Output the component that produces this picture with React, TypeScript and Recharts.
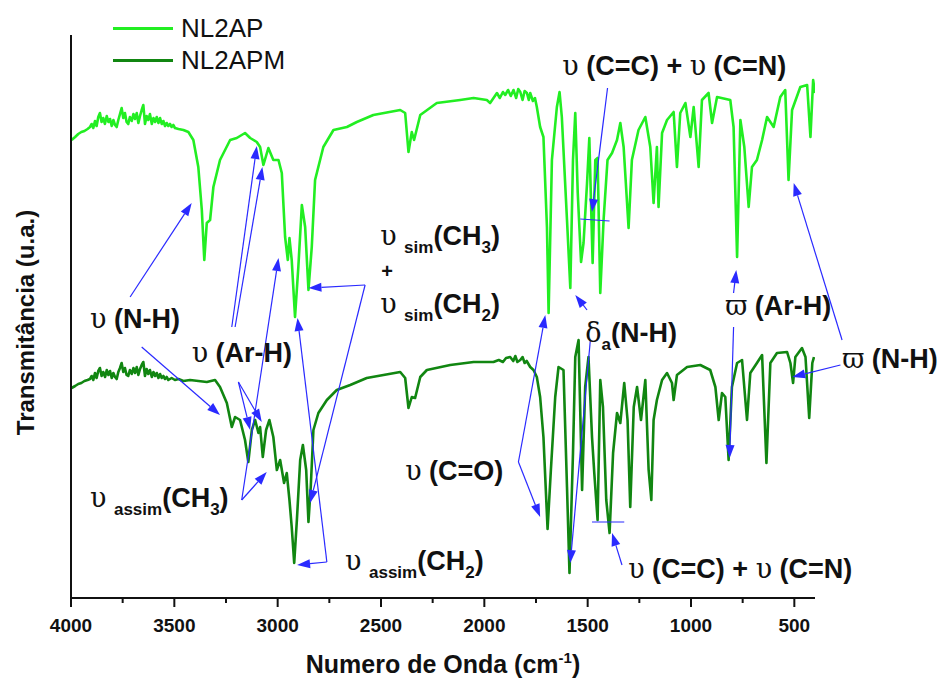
import React from 'react';
import { LineChart, Line, XAxis, YAxis, ReferenceLine, ReferenceDot, Legend } from 'recharts';

// ---------- data: [wavenumber (cm-1), transmittance (arbitrary units)] ----------
const nl2apSpectrum: [number, number][] = [
  [3997,458],[3980,461],[3965,464],[3950,466],[3935,467],[3920,469],[3908,471],[3900,474],[3892,470],[3884,477],
  [3876,472],[3868,481],[3860,485],[3852,476],[3844,480],[3836,474],[3827,482],[3819,476],[3811,479],[3803,472],
  [3795,478],[3787,473],[3779,471],[3771,478],[3763,484],[3755,490],[3747,480],[3739,485],[3731,476],[3723,474],
  [3715,481],[3706,477],[3698,484],[3690,479],[3682,485],[3674,475],[3666,482],[3658,488],[3650,493],[3642,474],
  [3634,482],[3626,478],[3618,484],[3609,474],[3601,480],[3593,476],[3585,481],[3577,475],[3569,480],[3561,474],
  [3553,477],[3545,472],[3537,475],[3529,472],[3521,474],[3513,471],[3505,473],[3497,470],[3480,469],[3456,468],
  [3432,466],[3408,458],[3384,431],[3367,388],[3355,338],[3343,375],[3327,378],[3311,411],[3279,438],[3230,458],
  [3198,460],[3158,465],[3133,460],[3101,456],[3085,451],[3069,433],[3045,450],[3021,438],[2996,438],[2980,425],
  [2964,361],[2951,338],[2943,360],[2932,338],[2916,281],[2900,331],[2883,393],[2867,371],[2851,308],[2835,351],
  [2819,418],[2779,451],[2730,468],[2665,471],[2617,476],[2537,483],[2407,488],[2383,485],[2367,446],[2351,466],
  [2340,458],[2310,483],[2230,495],[2117,498],[2052,500],[1988,498],[1972,495],[1939,505],[1925,500],[1910,506],
  [1899,503],[1885,508],[1872,502],[1859,508],[1846,500],[1836,509],[1826,506],[1815,498],[1805,507],[1794,505],
  [1785,498],[1778,505],[1765,497],[1755,500],[1746,491],[1730,471],[1714,461],[1697,371],[1689,285],[1673,438],
  [1649,491],[1636,506],[1625,481],[1600,378],[1584,310],[1571,438],[1560,485],[1548,405],[1532,336],[1520,355],
  [1503,415],[1492,460],[1476,335],[1463,438],[1452,440],[1439,305],[1423,378],[1404,438],[1382,445],[1358,458],
  [1342,475],[1326,451],[1302,370],[1286,438],[1254,468],[1221,481],[1197,451],[1181,395],[1165,451],[1157,391],
  [1140,465],[1116,478],[1084,486],[1068,431],[1052,485],[1027,495],[1003,461],[987,491],[963,431],[947,498],
  [915,505],[898,475],[874,501],[810,498],[794,471],[777,341],[761,478],[742,451],[721,391],[705,431],
  [681,438],[656,458],[632,481],[600,471],[568,501],[544,508],[528,418],[511,488],[471,511],[438,513],
  [422,461],[409,518],[400,505],
];

const nl2apmSpectrum: [number, number][] = [
  [3997,210],[3980,212],[3965,214],[3950,215],[3935,217],[3920,218],[3908,219],[3900,222],[3892,218],[3884,225],
  [3876,220],[3868,227],[3860,230],[3852,222],[3844,226],[3835,221],[3827,228],[3819,223],[3811,227],[3803,220],
  [3795,225],[3787,221],[3779,219],[3771,226],[3763,230],[3755,235],[3747,226],[3739,230],[3731,223],[3723,222],
  [3715,228],[3706,224],[3698,230],[3690,225],[3682,231],[3674,223],[3666,229],[3658,233],[3650,236],[3642,222],
  [3634,229],[3626,224],[3618,228],[3609,221],[3601,226],[3593,222],[3585,225],[3577,220],[3569,224],[3561,220],
  [3553,222],[3545,219],[3537,221],[3529,218],[3513,220],[3497,218],[3480,219],[3456,217],[3424,218],[3343,216],
  [3303,218],[3279,211],[3246,195],[3222,171],[3206,181],[3182,178],[3158,158],[3142,136],[3125,168],[3109,178],
  [3093,165],[3085,171],[3072,141],[3056,168],[3040,178],[3021,161],[3004,128],[2988,138],[2969,115],[2956,125],
  [2943,98],[2932,71],[2920,35],[2907,78],[2891,138],[2878,153],[2862,128],[2851,76],[2840,111],[2827,168],
  [2803,185],[2762,198],[2714,208],[2649,213],[2569,220],[2488,223],[2407,226],[2383,220],[2367,190],[2351,201],
  [2335,200],[2310,221],[2278,228],[2165,233],[2052,236],[1956,236],[1930,238],[1910,236],[1895,240],[1875,241],
  [1860,237],[1850,242],[1840,236],[1826,238],[1815,241],[1805,235],[1795,237],[1778,231],[1762,228],[1746,221],
  [1730,201],[1714,161],[1694,69],[1678,128],[1657,201],[1641,231],[1617,228],[1600,111],[1588,25],[1571,145],
  [1560,241],[1544,258],[1527,108],[1512,211],[1496,241],[1479,161],[1468,125],[1452,78],[1439,218],[1426,191],
  [1410,98],[1394,65],[1377,145],[1358,185],[1342,175],[1323,215],[1307,178],[1294,91],[1277,191],[1261,211],
  [1242,178],[1221,218],[1205,128],[1192,98],[1181,178],[1165,198],[1140,218],[1116,225],[1092,215],[1084,198],
  [1068,223],[1019,231],[955,233],[907,228],[882,211],[866,178],[850,205],[834,201],[818,138],[802,211],
  [777,235],[753,238],[729,178],[713,225],[681,235],[656,243],[635,135],[616,235],[584,245],[535,246],
  [519,235],[506,215],[495,241],[463,250],[446,241],[428,180],[413,235],[405,241],
];

const seriesNames = ['NL2AP', 'NL2APM'];
const xTicks = [4000, 3750, 3500, 3250, 3000, 2750, 2500, 2250, 2000, 1750, 1500, 1250, 1000, 750, 500];
const xDomain = [400, 4000];
const yDomain = [0, 563];

// annotation arrows [wavenumber, transmittance] tail -> head
const arrowTails = [
  [3714, 301], [3658, 251], [3222, 271], [3206, 271], [3190, 216], [3190, 216],
  [3174, 98], [3174, 98], [2762, 36], [2762, 36], [2577, 313], [2577, 313],
  [1835, 136], [1835, 136], [1503, 288], [1487, 258], [1404, 510], [1334, 33],
  [794, 305], [794, 271], [269, 258], [277, 233],
];
const arrowHeads = [
  [3416, 395], [3279, 183], [3101, 452], [3074, 431], [3133, 168], [3077, 176],
  [3053, 126], [2996, 340], [2906, 33], [2904, 280], [2851, 310], [2843, 95],
  [1730, 81], [1705, 283], [1560, 303], [1584, 35], [1479, 386], [1382, 65],
  [781, 328], [813, 140], [503, 415], [510, 221],
];
const barSegments = [
  [[1536, 379], [1394, 377]],
  [[1479, 76], [1323, 76]],
];

// annotation labels: anchor [wavenumber, transmittance] and text parts
// part kinds: g = greek symbol, t = bold text, s = subscript
const labelAnchors = [
  [3908, 270], [3416, 236], [3908, 91], [2674, 28], [2504, 353], [2504, 285],
  [2383, 118], [1512, 256], [1623, 523], [1304, 20], [834, 283], [268, 230],
];
const labelParts = [
  [['g', 'υ'], ['t', ' (N-H)']],
  [['g', 'υ'], ['t', ' (Ar-H)']],
  [['g', 'υ'], ['t', ' '], ['s', 'assim'], ['t', '(CH'], ['s', '3'], ['t', ')']],
  [['g', 'υ'], ['t', ' '], ['s', 'assim'], ['t', '(CH'], ['s', '2'], ['t', ')']],
  [['g', 'υ'], ['t', ' '], ['s', 'sim'], ['t', '(CH'], ['s', '3'], ['t', ')']],
  [['g', 'υ'], ['t', ' '], ['s', 'sim'], ['t', '(CH'], ['s', '2'], ['t', ')']],
  [['g', 'υ'], ['t', ' (C=O)']],
  [['g', 'δ'], ['s', 'a'], ['t', '(N-H)']],
  [['g', 'υ'], ['t', ' (C=C) + '], ['g', 'υ'], ['t', ' (C=N)']],
  [['g', 'υ'], ['t', ' (C=C) + '], ['g', 'υ'], ['t', ' (C=N)']],
  [['g', 'ϖ'], ['t', ' (Ar-H)']],
  [['g', 'ϖ'], ['t', ' (N-H)']],
];
const plusAnchor = [2470, 320];

// ---------- styles ----------
const LIGHT = '#22ee22';
const DARK = '#118611';
const BLUE = '#2a2aff';
const SANS = '"Liberation Sans", Arial, Helvetica, sans-serif';
const GREEK = '"DejaVu Serif", "Liberation Serif", serif';
const LABEL_SIZE = 27;
const SUB_SIZE = 17;

const toRows = (pairs: [number, number][]) => pairs.map(([wn, t]) => ({ wn, t }));
const nl2apData = toRows(nl2apSpectrum);
const nl2apmData = toRows(nl2apmSpectrum);

const ArrowShape = (p: any) => {
  const { x1, y1, x2, y2 } = p;
  if ([x1, y1, x2, y2].some((v) => typeof v !== 'number' || isNaN(v))) return <g />;
  const dx = x2 - x1;
  const dy = y2 - y1;
  const len = Math.hypot(dx, dy) || 1;
  const ux = dx / len;
  const uy = dy / len;
  const hl = 13;
  const hw = 4.5;
  const bx = x2 - ux * hl;
  const by = y2 - uy * hl;
  const pts = `${x2},${y2} ${bx - uy * hw},${by + ux * hw} ${bx + uy * hw},${by - ux * hw}`;
  return (
    <g>
      <line x1={x1} y1={y1} x2={bx} y2={by} stroke={BLUE} strokeWidth={1.2} />
      <polygon points={pts} fill={BLUE} />
    </g>
  );
};

const BarShape = (p: any) => {
  const { x1, y1, x2, y2 } = p;
  return <line x1={x1} y1={y1} x2={x2} y2={y2} stroke={BLUE} strokeWidth={1.2} />;
};

const makeTextShape = (parts: string[][]) => (p: any) => {
  const { cx, cy } = p;
  const spans: React.ReactNode[] = [];
  let sub = false;
  parts.forEach(([kind, txt], i) => {
    let dy = 0;
    if (kind === 's' && !sub) { dy = 8; sub = true; }
    else if (kind !== 's' && sub) { dy = -8; sub = false; }
    if (kind === 'g') {
      spans.push(
        <tspan key={i} dy={dy} fontFamily={GREEK} fontWeight="normal" fontSize={LABEL_SIZE}>{txt}</tspan>
      );
    } else if (kind === 's') {
      spans.push(
        <tspan key={i} dy={dy} fontSize={SUB_SIZE}>{txt}</tspan>
      );
    } else {
      spans.push(
        <tspan key={i} dy={dy} fontSize={LABEL_SIZE}>{txt}</tspan>
      );
    }
  });
  return (
    <text x={cx} y={cy} fontFamily={SANS} fontWeight="bold" fill="#111" style={{ whiteSpace: 'pre' }} xmlSpace="preserve">
      {spans}
    </text>
  );
};

const PlusShape = (p: any) => (
  <text x={p.cx} y={p.cy} textAnchor="middle" fontFamily={SANS} fontWeight="bold" fontSize={20} fill="#111">+</text>
);

const XTick = (p: any) => {
  const { x, y, payload } = p;
  const v = payload?.value;
  const major = v % 500 === 0;
  return (
    <g>
      <line x1={x} y1={y} x2={x} y2={y + (major ? 9 : 5)} stroke="#111" strokeWidth={2} />
      {major && (
        <text x={x} y={y + 34} textAnchor="middle" fontFamily={SANS} fontWeight="bold" fontSize={19} fill="#111">
          {v}
        </text>
      )}
    </g>
  );
};

const XTitle = (p: any) => {
  const vb = p.viewBox || { x: 71, y: 598, width: 744, height: 40 };
  const cx = vb.x + vb.width / 2;
  const y = vb.y + 75;
  return (
    <text x={cx} y={y} textAnchor="middle" fontFamily={SANS} fontWeight="bold" fontSize={25} fill="#111">
      <tspan>Numero de Onda (cm</tspan>
      <tspan fontSize={15} dy={-10}>-1</tspan>
      <tspan dy={10}>)</tspan>
    </text>
  );
};

const YTitle = (p: any) => {
  const vb = p.viewBox || { x: 0, y: 35, width: 71, height: 563 };
  const cy = vb.y + vb.height / 2 + 6;
  const x = 34;
  return (
    <text x={x} y={cy} textAnchor="middle" transform={`rotate(-90, ${x}, ${cy})`} fontFamily={SANS} fontWeight="bold" fontSize={24} fill="#111">
      Transmitância (u.a.)
    </text>
  );
};

const LegendContent = () => (
  <div style={{ fontFamily: SANS, fontSize: 26, color: '#111' }}>
    {[LIGHT, DARK].map((c, i) => (
      <div key={i} style={{ display: 'flex', alignItems: 'center', height: 32 }}>
        <span style={{ display: 'inline-block', width: 60, height: 3, background: c }} />
        <span style={{ marginLeft: 8, lineHeight: '32px' }}>{seriesNames[i]}</span>
      </div>
    ))}
  </div>
);

export default function App() {
  return (
    <div style={{ position: 'absolute', left: 0, top: 0, width: 937, height: 686, background: '#fff', fontFamily: SANS }}>
      <LineChart width={937} height={686} margin={{ top: 35, right: 122, bottom: 48, left: 0 }}>
        <XAxis
          type="number"
          dataKey="wn"
          domain={xDomain}
          reversed
          allowDataOverflow
          ticks={xTicks}
          interval={0}
          tickSize={0}
          tickMargin={0}
          tickLine={false}
          axisLine={{ stroke: '#111', strokeWidth: 2 }}
          tick={<XTick />}
          height={40}
          label={{ content: (lp: any) => <XTitle {...lp} /> }}
        />
        <YAxis
          type="number"
          domain={yDomain}
          allowDataOverflow
          tick={false}
          tickLine={false}
          axisLine={{ stroke: '#111', strokeWidth: 2 }}
          width={71}
          label={{ content: (lp: any) => <YTitle {...lp} /> }}
        />
        <Legend
          layout="vertical"
          align="center"
          verticalAlign="middle"
          wrapperStyle={{ left: 113, top: 12, width: 'auto', height: 'auto' }}
          content={() => <LegendContent />}
        />
        <Line data={nl2apData} dataKey="t" name={seriesNames[0]} type="linear" stroke={LIGHT} strokeWidth={2.6} strokeLinejoin="round" dot={false} activeDot={false} isAnimationActive={false} />
        <Line data={nl2apmData} dataKey="t" name={seriesNames[1]} type="linear" stroke={DARK} strokeWidth={2.6} strokeLinejoin="round" dot={false} activeDot={false} isAnimationActive={false} />
        {arrowTails.map((tail, i) => (
          <ReferenceLine
            key={`a${i}`}
            ifOverflow="visible"
            segment={[{ x: tail[0], y: tail[1] }, { x: arrowHeads[i][0], y: arrowHeads[i][1] }]}
            shape={ArrowShape}
          />
        ))}
        {barSegments.map((seg, i) => (
          <ReferenceLine
            key={`b${i}`}
            ifOverflow="visible"
            segment={[{ x: seg[0][0], y: seg[0][1] }, { x: seg[1][0], y: seg[1][1] }]}
            shape={BarShape}
          />
        ))}
        {labelAnchors.map((a, i) => (
          <ReferenceDot key={`l${i}`} x={a[0]} y={a[1]} r={0} ifOverflow="visible" shape={makeTextShape(labelParts[i])} />
        ))}
        <ReferenceDot x={plusAnchor[0]} y={plusAnchor[1]} r={0} ifOverflow="visible" shape={PlusShape} />
      </LineChart>
    </div>
  );
}
